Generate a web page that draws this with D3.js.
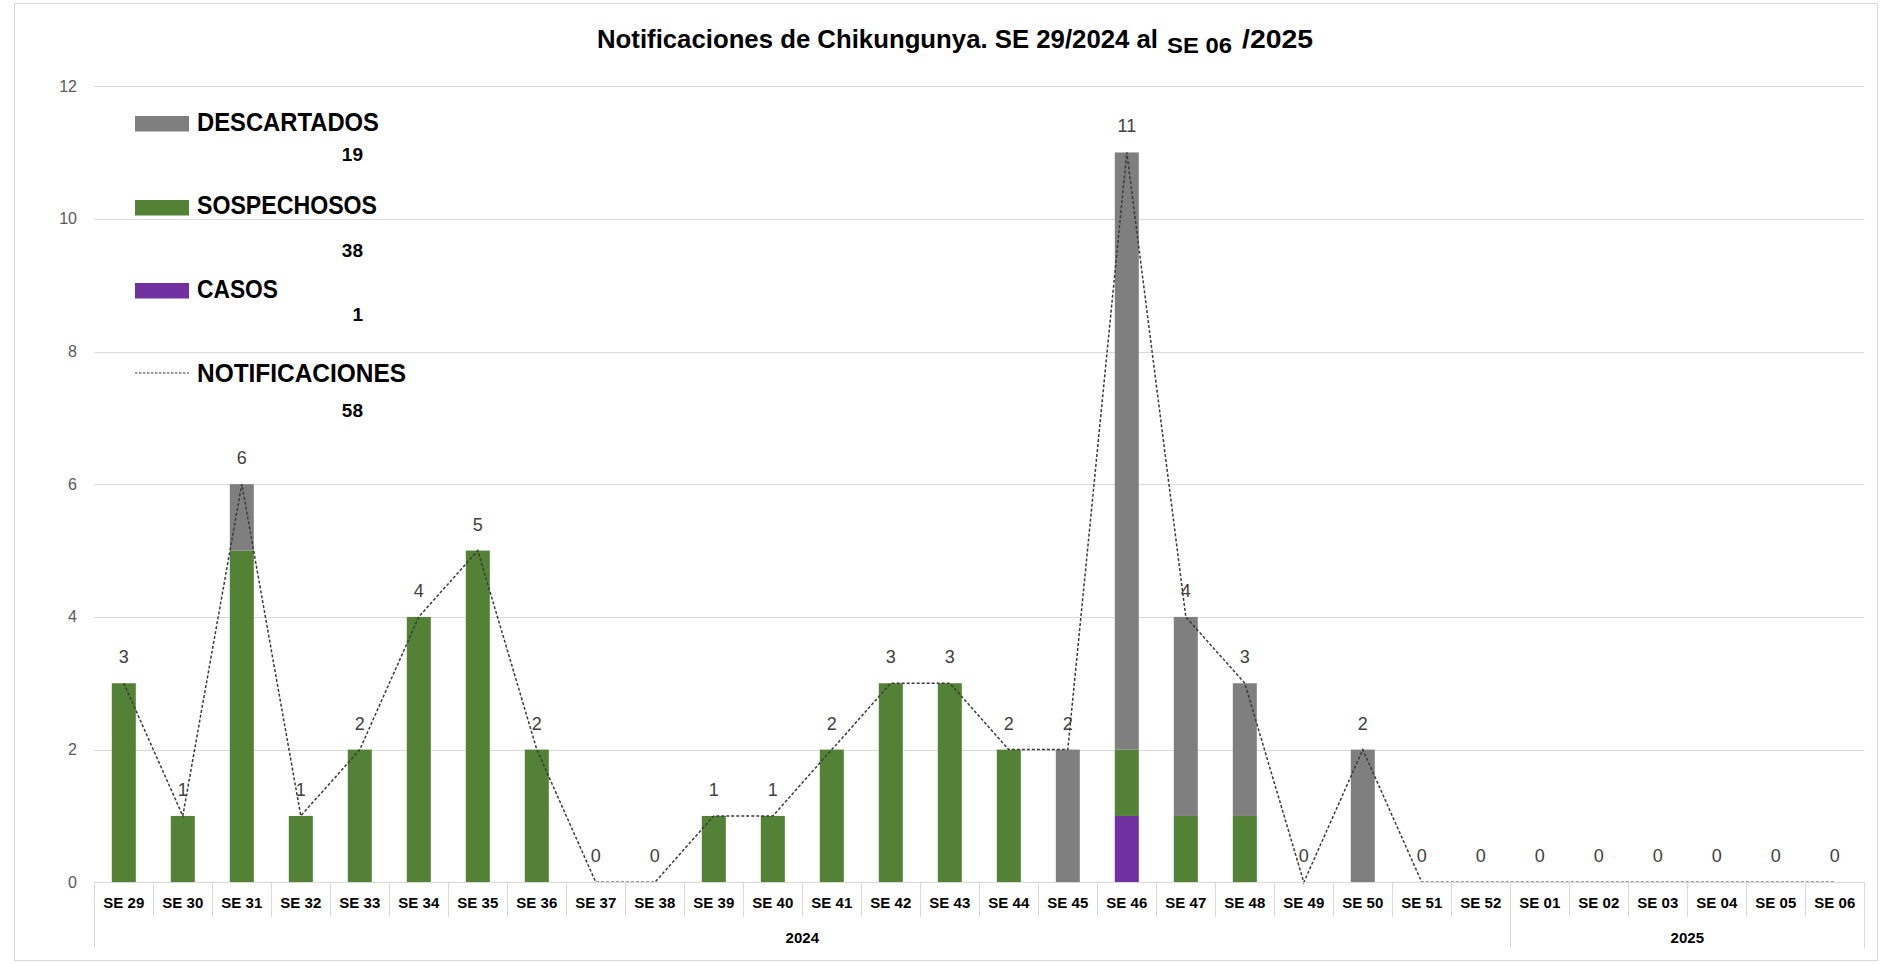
<!DOCTYPE html>
<html>
<head>
	<meta charset="utf-8">
	<script type="text/javascript" src="https://cdn.jsdelivr.net/npm/d3@7/dist/d3.min.js"></script>
	<style type="text/css">
		body { margin: 0; background: #fff; }
		text { font-family: "Liberation Sans Narrow", "Liberation Sans", Arial, sans-serif; }
		.grid line { stroke: #d9d9d9; stroke-width: 1px; }
	</style>
</head>
<body>
<script type="text/javascript">

var weeks = ["SE 29", "SE 30", "SE 31", "SE 32", "SE 33", "SE 34", "SE 35", "SE 36", "SE 37", "SE 38",
	"SE 39", "SE 40", "SE 41", "SE 42", "SE 43", "SE 44", "SE 45", "SE 46", "SE 47", "SE 48",
	"SE 49", "SE 50", "SE 51", "SE 52", "SE 01", "SE 02", "SE 03", "SE 04", "SE 05", "SE 06"];

var casos       = [0, 0, 0, 0, 0, 0, 0, 0, 0, 0, 0, 0, 0, 0, 0, 0, 0, 1, 0, 0, 0, 0, 0, 0, 0, 0, 0, 0, 0, 0];
var sospechosos = [3, 1, 5, 1, 2, 4, 5, 2, 0, 0, 1, 1, 2, 3, 3, 2, 0, 1, 1, 1, 0, 0, 0, 0, 0, 0, 0, 0, 0, 0];
var descartados = [0, 0, 1, 0, 0, 0, 0, 0, 0, 0, 0, 0, 0, 0, 0, 0, 2, 9, 3, 2, 0, 2, 0, 0, 0, 0, 0, 0, 0, 0];

var years = ["2024", "2025"];
var weeksPerYear = [24, 6];

var yTicks = [0, 2, 4, 6, 8, 10, 12];

var width = 1880,
	height = 964,
	left = 94.3,
	right = 1864.3,
	y0 = 882.3,
	yTop = 86.1,
	barWidth = 24;

var colors = { descartados: "#7f7f7f", sospechosos: "#538135", casos: "#7030a0" };

var rows = weeks.map(function(w, i) {
	return { week: w, casos: casos[i], sospechosos: sospechosos[i], descartados: descartados[i],
		total: casos[i] + sospechosos[i] + descartados[i] };
});

var svg = d3.select("body").append("svg")
	.attr("width", width)
	.attr("height", height);

// chart frame
svg.append("rect")
	.attr("x", 14.5).attr("y", 3.5)
	.attr("width", 1863).attr("height", 957)
	.attr("fill", "none")
	.attr("stroke", "#d9d9d9");

var x = d3.scaleBand().domain(weeks).range([left, right]).padding(0);
var y = d3.scaleLinear().domain([0, 12]).range([y0, yTop]);

// gridlines
svg.append("g").attr("class", "grid").selectAll("line")
	.data(yTicks)
  .enter().append("line")
	.attr("x1", left).attr("x2", right)
	.attr("y1", function(d) { return Math.round(y(d)) + 0.5; })
	.attr("y2", function(d) { return Math.round(y(d)) + 0.5; });

// y labels
svg.append("g").selectAll("text")
	.data(yTicks)
  .enter().append("text")
	.attr("x", 77)
	.attr("y", function(d) { return y(d) + 5.5; })
	.attr("text-anchor", "end")
	.attr("font-size", "16px")
	.attr("fill", "#595959")
	.text(function(d) { return d; });

// stacked bars
var stack = d3.stack().keys(["casos", "sospechosos", "descartados"]);
var series = stack(rows);

svg.append("g").selectAll("g")
	.data(series)
  .enter().append("g")
	.attr("fill", function(s) { return colors[s.key]; })
  .selectAll("rect")
	.data(function(s) { return s; })
  .enter().append("rect")
	.attr("x", function(d) { return x(d.data.week) + x.bandwidth() / 2 - barWidth / 2; })
	.attr("y", function(d) { return y(d[1]); })
	.attr("width", barWidth)
	.attr("height", function(d) { return y(d[0]) - y(d[1]); });

// notifications line
var line = d3.line()
	.x(function(d) { return x(d.week) + x.bandwidth() / 2; })
	.y(function(d) { return y(d.total); });

svg.append("path")
	.datum(rows)
	.attr("d", line)
	.attr("fill", "none")
	.attr("stroke", "#3a3a3a")
	.attr("stroke-width", 1.5)
	.attr("stroke-dasharray", "3,2");

// value labels
svg.append("g").selectAll("text")
	.data(rows)
  .enter().append("text")
	.attr("x", function(d) { return x(d.week) + x.bandwidth() / 2; })
	.attr("y", function(d) { return y(d.total) - 20; })
	.attr("text-anchor", "middle")
	.attr("font-size", "18px")
	.attr("fill", "#404040")
	.text(function(d) { return d.total; });

// category axis: separators, week labels, year labels
var boundaries = d3.range(weeks.length + 1);
var yearEdges = [0];
weeksPerYear.forEach(function(n, i) { yearEdges.push(yearEdges[i] + n); });

svg.append("line")
	.attr("x1", left).attr("x2", right)
	.attr("y1", Math.round(y0) + 0.5).attr("y2", Math.round(y0) + 0.5)
	.attr("stroke", "#d9d9d9");

svg.append("g").selectAll("line")
	.data(boundaries)
  .enter().append("line")
	.attr("x1", function(i) { return Math.round(left + i * x.step()) + 0.5; })
	.attr("x2", function(i) { return Math.round(left + i * x.step()) + 0.5; })
	.attr("y1", y0)
	.attr("y2", function(i) { return yearEdges.indexOf(i) >= 0 ? 948 : 917; })
	.attr("stroke", "#d9d9d9");

svg.append("g").selectAll("text")
	.data(weeks)
  .enter().append("text")
	.attr("x", function(d) { return x(d) + x.bandwidth() / 2; })
	.attr("y", 908)
	.attr("text-anchor", "middle")
	.attr("font-size", "15px")
	.attr("font-weight", "bold")
	.attr("fill", "#000")
	.text(function(d) { return d; });

svg.append("g").selectAll("text")
	.data(years)
  .enter().append("text")
	.attr("x", function(d, i) { return left + (yearEdges[i] + yearEdges[i + 1]) / 2 * x.step(); })
	.attr("y", 942.5)
	.attr("text-anchor", "middle")
	.attr("font-size", "15px")
	.attr("font-weight", "bold")
	.attr("fill", "#000")
	.text(function(d) { return d; });

// title
var title = svg.append("g")
	.attr("font-weight", "bold")
	.attr("fill", "#000");

title.append("text")
	.attr("x", 597).attr("y", 48)
	.attr("font-size", "26px")
	.attr("textLength", 561).attr("lengthAdjust", "spacingAndGlyphs")
	.text("Notificaciones de Chikungunya. SE 29/2024 al");
title.append("text")
	.attr("x", 1167).attr("y", 52.5)
	.attr("font-size", "22px")
	.attr("textLength", 65).attr("lengthAdjust", "spacingAndGlyphs")
	.text("SE 06");
title.append("text")
	.attr("x", 1242).attr("y", 48)
	.attr("font-size", "26px")
	.attr("textLength", 71).attr("lengthAdjust", "spacingAndGlyphs")
	.text("/2025");

// legend
var legendItems = [
	{ name: "DESCARTADOS", total: d3.sum(descartados), color: colors.descartados, top: 116, base: 131, numBase: 161, len: 182 },
	{ name: "SOSPECHOSOS", total: d3.sum(sospechosos), color: colors.sospechosos, top: 200, base: 214, numBase: 257, len: 180 },
	{ name: "CASOS", total: d3.sum(casos), color: colors.casos, top: 283, base: 298, numBase: 321, len: 81 },
	{ name: "NOTIFICACIONES", total: d3.sum(rows, function(d) { return d.total; }), color: null, top: 373, base: 382, numBase: 417, len: 209 }
];

var legend = svg.append("g").selectAll("g")
	.data(legendItems)
  .enter().append("g");

legend.filter(function(d) { return d.color; }).append("rect")
	.attr("x", 135).attr("y", function(d) { return d.top; })
	.attr("width", 54).attr("height", 15.5)
	.attr("fill", function(d) { return d.color; });

legend.filter(function(d) { return !d.color; }).append("line")
	.attr("x1", 135).attr("x2", 189)
	.attr("y1", function(d) { return d.top; }).attr("y2", function(d) { return d.top; })
	.attr("stroke", "#3a3a3a")
	.attr("stroke-width", 1.2)
	.attr("stroke-dasharray", "2.5,1.5");

legend.append("text")
	.attr("x", 197)
	.attr("y", function(d) { return d.base; })
	.attr("font-size", "25px")
	.attr("font-weight", "bold")
	.attr("fill", "#000")
	.attr("textLength", function(d) { return d.len; })
	.attr("lengthAdjust", "spacingAndGlyphs")
	.text(function(d) { return d.name; });

legend.append("text")
	.attr("x", 363)
	.attr("y", function(d) { return d.numBase; })
	.attr("text-anchor", "end")
	.attr("font-size", "19px")
	.attr("font-weight", "bold")
	.attr("fill", "#000")
	.text(function(d) { return d.total; });

</script>
</body>
</html>
